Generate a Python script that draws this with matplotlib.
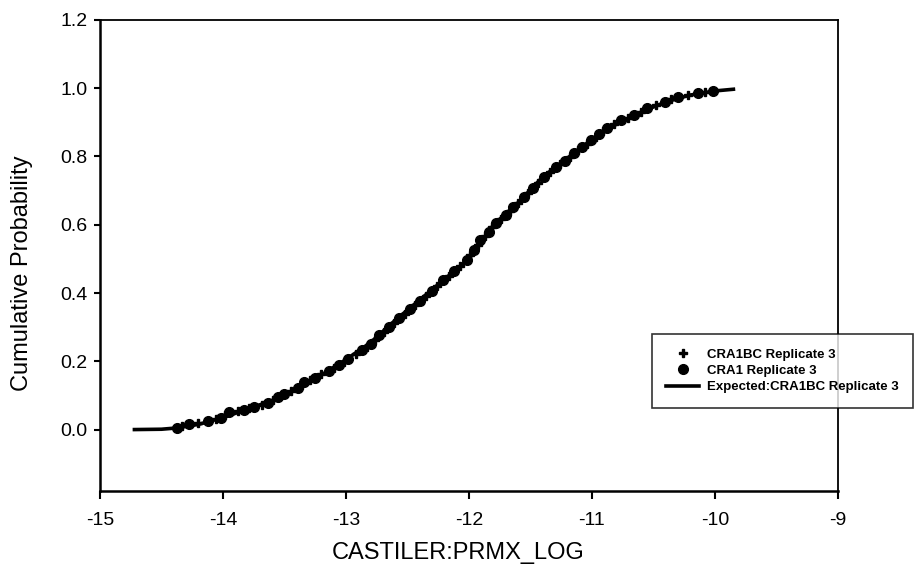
import matplotlib.pyplot as plt
import numpy as np

plt.rcParams['font.family'] = ['Liberation Sans', 'DejaVu Sans']

# values
expected_x = [-14.72, -14.5, -14.4, -14.2, -14.0, -13.8, -13.6, -13.4, -13.2, -13.0,
              -12.8, -12.6, -12.4, -12.2, -12.0, -11.8, -11.6, -11.4, -11.2, -11.0,
              -10.8, -10.6, -10.4, -10.2, -10.0, -9.85]
expected_y = [0.0, 0.001, 0.004, 0.015, 0.035, 0.06, 0.085, 0.12, 0.16, 0.205,
              0.255, 0.32, 0.38, 0.44, 0.50, 0.60, 0.665, 0.74, 0.795, 0.85,
              0.895, 0.93, 0.96, 0.98, 0.992, 0.997]

cra1_x = [-14.37, -14.28, -14.12, -14.02, -13.95, -13.83, -13.75, -13.63, -13.55, -13.50,
          -13.39, -13.34, -13.25, -13.14, -13.06, -12.98, -12.87, -12.80, -12.73, -12.65,
          -12.57, -12.48, -12.40, -12.30, -12.21, -12.12, -12.02, -11.96, -11.91, -11.84,
          -11.78, -11.70, -11.64, -11.55, -11.48, -11.39, -11.29, -11.22, -11.15, -11.08,
          -11.01, -10.94, -10.88, -10.76, -10.66, -10.55, -10.41, -10.30, -10.14, -10.02]
cra1_y = [0.006, 0.015, 0.024, 0.035, 0.050, 0.058, 0.067, 0.079, 0.094, 0.103,
          0.123, 0.138, 0.150, 0.173, 0.188, 0.208, 0.232, 0.252, 0.276, 0.300,
          0.328, 0.352, 0.378, 0.405, 0.437, 0.465, 0.496, 0.525, 0.554, 0.580,
          0.604, 0.630, 0.651, 0.680, 0.707, 0.739, 0.768, 0.788, 0.809, 0.828,
          0.848, 0.866, 0.883, 0.906, 0.921, 0.941, 0.959, 0.974, 0.985, 0.991]

cra1bc_x = [-14.33, -14.20, -14.06, -13.98, -13.88, -13.79, -13.68, -13.59, -13.45, -13.36,
            -13.29, -13.20, -13.10, -13.02, -12.92, -12.83, -12.76, -12.69, -12.61, -12.52,
            -12.44, -12.35, -12.26, -12.16, -12.07, -11.99, -11.93, -11.87, -11.81, -11.74,
            -11.67, -11.60, -11.52, -11.44, -11.34, -11.26, -11.18, -11.11, -11.04, -10.97,
            -10.91, -10.82, -10.71, -10.60, -10.48, -10.36, -10.22, -10.08]
cra1bc_y = [0.010, 0.020, 0.030, 0.042, 0.054, 0.062, 0.073, 0.086, 0.112, 0.130,
            0.144, 0.162, 0.180, 0.198, 0.220, 0.242, 0.262, 0.285, 0.312, 0.340,
            0.365, 0.392, 0.422, 0.450, 0.480, 0.510, 0.540, 0.567, 0.592, 0.617,
            0.641, 0.665, 0.693, 0.723, 0.754, 0.778, 0.799, 0.818, 0.838, 0.857,
            0.874, 0.895, 0.914, 0.931, 0.950, 0.967, 0.980, 0.989]

x_ticks = [-15, -14, -13, -12, -11, -10, -9]
y_ticks = [0.0, 0.2, 0.4, 0.6, 0.8, 1.0, 1.2]

fig = plt.figure(figsize=(9.14, 5.78), dpi=100)
ax = fig.add_axes([0.1094, 0.1505, 0.8074, 0.815])

ax.plot(expected_x, expected_y, color='black', lw=2.6, zorder=2,
        label='Expected:CRA1BC Replicate 3')
ax.plot(cra1bc_x, cra1bc_y, ls='none', marker='P', ms=6, color='black', zorder=3,
        label='CRA1BC Replicate 3')
ax.plot(cra1_x, cra1_y, ls='none', marker='o', ms=7, color='black', zorder=3,
        label='CRA1 Replicate 3')

ax.set_xlim(-15, -9)
ax.set_ylim(-0.18, 1.2)
ax.set_xticks(x_ticks)
ax.set_xticklabels([str(t) for t in x_ticks])
ax.set_yticks(y_ticks)
ax.set_yticklabels(['%.1f' % t for t in y_ticks])
ax.tick_params(axis='x', direction='out', length=6, width=1.5, labelsize=14, pad=9)
ax.tick_params(axis='y', direction='out', length=4, width=1.5, labelsize=14, pad=5)

for side in ['left', 'bottom']:
    ax.spines[side].set_linewidth(1.8)
for side in ['top', 'right']:
    ax.spines[side].set_linewidth(1.3)

ax.set_xlabel('CASTILER:PRMX_LOG', fontsize=17)
ax.set_ylabel('Cumulative Probability', fontsize=17)
ax.xaxis.set_label_coords(0.485, -0.108)
ax.yaxis.set_label_coords(-0.091, 0.463)

handles, labels = ax.get_legend_handles_labels()
order = [1, 2, 0]
leg = fig.legend([handles[i] for i in order], [labels[i] for i in order],
                 loc='upper left', bbox_to_anchor=(0.713, 0.422), borderaxespad=0,
                 prop={'weight': 'bold', 'size': 9.5}, frameon=True,
                 fancybox=False, edgecolor='black', handlelength=2.5,
                 handletextpad=0.6, borderpad=1.1, labelspacing=0.3)
leg.get_frame().set_linewidth(1.2)

fig.savefig('out.png', dpi=100)
